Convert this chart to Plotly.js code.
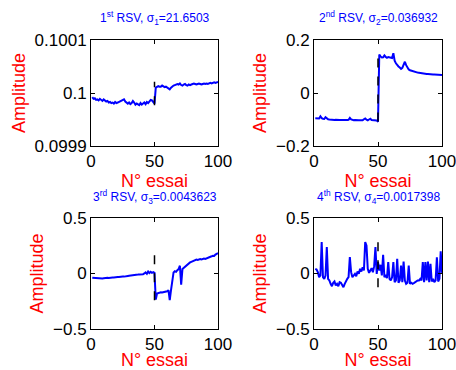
<!DOCTYPE html>
<html>
<head>
<meta charset="utf-8">
<script src="https://cdn.plot.ly/plotly-3.0.1.min.js"></script>
<style>html,body{margin:0;padding:0;background:#fff}#chart{width:456px;height:370px}</style>
</head>
<body>
<div id="chart"></div>
<script>
// Trial index 1..100
const trials = Array.from({length: 100}, (_, i) => i + 1);
const changeTrial = 50;

// 1st right singular vector
const rsv1 = [
  0.099992, 0.099989, 0.099990, 0.099987, 0.099988, 0.099986, 0.099989, 0.099987, 0.099985, 0.099988,
  0.099986, 0.099984, 0.099985, 0.099982, 0.099983, 0.099981, 0.099982, 0.099980, 0.099983, 0.099981,
  0.099982, 0.099983, 0.099984, 0.099985, 0.099986, 0.099988, 0.099984, 0.099981, 0.099980, 0.099982,
  0.099979, 0.099981, 0.099985, 0.099982, 0.099978, 0.099980, 0.099979, 0.099977, 0.099981, 0.099978,
  0.099980, 0.099982, 0.099979, 0.099983, 0.099981, 0.099984, 0.099987, 0.099986, 0.099983, 0.099980,
  0.100010, 0.100011, 0.100013, 0.100012, 0.100012, 0.100014, 0.100013, 0.100011, 0.100012, 0.100010,
  0.100008, 0.100007, 0.100010, 0.100013, 0.100014, 0.100015, 0.100016, 0.100017, 0.100016, 0.100018,
  0.100015, 0.100014, 0.100016, 0.100017, 0.100015, 0.100014, 0.100016, 0.100015, 0.100016, 0.100017,
  0.100018, 0.100017, 0.100016, 0.100017, 0.100018, 0.100017, 0.100016, 0.100017, 0.100018, 0.100017,
  0.100018, 0.100017, 0.100018, 0.100019, 0.100018, 0.100019, 0.100020, 0.100019, 0.100020, 0.100021
];

// 2nd right singular vector
const rsv2 = [
  -0.095, -0.096, -0.097, -0.096, -0.088, -0.095, -0.097, -0.098, -0.091, -0.096,
  -0.099, -0.100, -0.101, -0.101, -0.102, -0.102, -0.101, -0.102, -0.103, -0.102,
  -0.102, -0.103, -0.102, -0.102, -0.103, -0.102, -0.101, -0.094, -0.100, -0.102,
  -0.103, -0.102, -0.103, -0.104, -0.103, -0.103, -0.102, -0.103, -0.099, -0.096,
  -0.101, -0.103, -0.100, -0.097, -0.102, -0.103, -0.104, -0.103, -0.104, -0.108,
  0.145, 0.138, 0.134, 0.135, 0.142, 0.136, 0.133, 0.136, 0.134, 0.131,
  0.132, 0.150, 0.122, 0.112, 0.105, 0.100, 0.096, 0.091, 0.095, 0.108,
  0.118, 0.105, 0.095, 0.089, 0.086, 0.084, 0.082, 0.080, 0.079, 0.078,
  0.077, 0.076, 0.075, 0.075, 0.074, 0.073, 0.073, 0.072, 0.072, 0.071,
  0.071, 0.071, 0.070, 0.070, 0.070, 0.069, 0.069, 0.069, 0.068, 0.068
];

// 3rd right singular vector
const rsv3 = [
  -0.039, -0.040, -0.042, -0.041, -0.045, -0.043, -0.044, -0.042, -0.045, -0.043,
  -0.040, -0.041, -0.038, -0.040, -0.036, -0.038, -0.035, -0.036, -0.033, -0.034,
  -0.031, -0.032, -0.029, -0.030, -0.027, -0.028, -0.024, -0.025, -0.022, -0.020,
  -0.019, -0.021, -0.016, -0.017, -0.012, -0.014, -0.010, -0.008, -0.009, -0.004,
  -0.006, 0.000, 0.010, -0.003, 0.018, 0.004, 0.015, 0.006, 0.012, 0.005,
  -0.235, -0.180, -0.175, -0.176, -0.170, -0.172, -0.168, -0.170, -0.165, -0.160,
  -0.150, -0.240, -0.150, -0.060, 0.010, 0.020, 0.015, 0.030, 0.040, 0.070,
  -0.100, 0.040, 0.050, 0.065, 0.075, 0.080, 0.090, 0.100, 0.105, 0.110,
  0.115, 0.120, 0.125, 0.122, 0.128, 0.130, 0.127, 0.133, 0.135, 0.132,
  0.138, 0.140, 0.145, 0.150, 0.155, 0.160, 0.158, 0.170, 0.175, 0.185
];

// 4th right singular vector
const rsv4 = [
  0.042, 0.036, 0.012, -0.033, -0.018, 0.283, -0.033, -0.048, -0.018, 0.238,
  -0.048, -0.063, -0.093, -0.114, -0.084, -0.072, -0.108, -0.093, -0.114, -0.078,
  -0.084, -0.108, -0.123, -0.093, -0.063, -0.048, -0.033, 0.147, 0.012, -0.033,
  -0.018, -0.003, -0.024, 0.018, -0.003, 0.042, 0.018, 0.057, 0.027, 0.283,
  0.253, 0.042, 0.006, 0.027, 0.048, 0.012, 0.066, 0.238, -0.003, 0.102,
  0.027, 0.078, -0.018, 0.169, -0.033, -0.012, -0.042, 0.102, -0.048, -0.063,
  -0.033, 0.102, -0.078, -0.063, 0.132, -0.084, -0.063, 0.072, -0.078, 0.108,
  -0.063, -0.093, -0.084, 0.072, -0.093, -0.084, -0.093, -0.087, -0.078, -0.072,
  -0.063, -0.063, -0.048, -0.063, 0.102, -0.078, 0.102, -0.063, 0.108, -0.078,
  0.087, -0.072, -0.048, -0.078, -0.063, 0.147, -0.072, -0.048, 0.200, 0.006
];

const series = [rsv1, rsv2, rsv3, rsv4];
const titles = [
  "1<sup>st</sup> RSV, σ<sub>1</sub>=21.6503",
  "2<sup>nd</sup> RSV, σ<sub>2</sub>=0.036932",
  "3<sup>rd</sup> RSV, σ<sub>3</sub>=0.0043623",
  "4<sup>th</sup> RSV, σ<sub>4</sub>=0.0017398"
];
const xTickVals = [0, 50, 100];
const yTickVals = [
  [0.0999, 0.1, 0.1001],
  [-0.2, 0, 0.2],
  [-0.5, 0, 0.5],
  [-0.5, 0, 0.5]
];
const yTickText = [
  ["0.0999", "0.1", "0.1001"],
  ["−0.2", "0", "0.2"],
  ["−0.5", "0", "0.5"],
  ["−0.5", "0", "0.5"]
];
const xLabel = "N° essai";
const yLabel = "Amplitude";

const W = 456, H = 370;
const FONT = "Liberation Sans, Arial, Helvetica, sans-serif";
const xDomains = [[91 / W, 218 / W], [314 / W, 442 / W]];
const yDomains = [[1 - 146 / H, 1 - 40 / H], [1 - 329 / H, 1 - 218 / H]];

const data = [];
const layout = {
  width: W, height: H,
  margin: {l: 0, r: 0, t: 0, b: 0},
  paper_bgcolor: "#fff", plot_bgcolor: "#fff",
  showlegend: false,
  font: {family: FONT, color: "#000"},
  annotations: []
};

series.forEach((vals, i) => {
  const n = i + 1;
  const xa = "x" + (n === 1 ? "" : n), ya = "y" + (n === 1 ? "" : n);
  const col = i % 2, row = Math.floor(i / 2);
  data.push({
    x: trials, y: vals, xaxis: xa, yaxis: ya, type: "scatter", mode: "lines",
    line: {color: "#0000ff", width: 2}, hoverinfo: "skip"
  });
  data.push({
    x: [changeTrial, changeTrial], y: [Math.min(...vals), Math.max(...vals)],
    xaxis: xa, yaxis: ya, type: "scatter", mode: "lines",
    line: {color: "#000", width: 1.5, dash: "dash"}, hoverinfo: "skip"
  });
  const axBase = {
    showline: true, linecolor: "#000", linewidth: 1, mirror: "ticks",
    ticks: "inside", ticklen: 4, tickcolor: "#000", tickwidth: 1,
    showgrid: false, zeroline: false, fixedrange: true,
    ticklabeloverflow: "allow",
    tickfont: {family: FONT, size: 17, color: "#000"}
  };
  layout["xaxis" + (n === 1 ? "" : n)] = Object.assign({}, axBase, {
    domain: xDomains[col], range: [0, 100], tickmode: "array",
    tickvals: xTickVals, ticktext: xTickVals.map(String),
    anchor: ya,
    title: {text: xLabel, font: {family: FONT, size: 18, color: "#ff0000"}, standoff: 0}
  });
  layout["yaxis" + (n === 1 ? "" : n)] = Object.assign({}, axBase, {
    domain: yDomains[row], range: [yTickVals[i][0], yTickVals[i][2]], tickmode: "array",
    tickvals: yTickVals[i], ticktext: yTickText[i],
    anchor: xa,
    title: {text: yLabel, font: {family: FONT, size: 18, color: "#ff0000"}, standoff: 4}
  });
  layout.annotations.push({
    text: titles[i], xref: "paper", yref: "paper",
    x: (xDomains[col][0] + xDomains[col][1]) / 2,
    y: row === 0 ? 1 - 18 / H : 1 - 197 / H,
    xanchor: "center", yanchor: "middle", showarrow: false,
    font: {family: FONT, size: 12, color: "#0000ff"}
  });
});

Plotly.newPlot("chart", data, layout, {staticPlot: true, displayModeBar: false});
</script>
</body>
</html>
